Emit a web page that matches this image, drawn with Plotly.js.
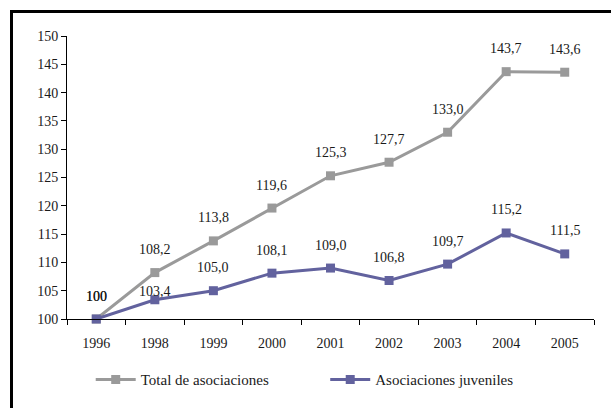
<!DOCTYPE html>
<html><head><meta charset="utf-8">
<script src="https://cdn.plot.ly/plotly-3.0.1.min.js"></script>
<style>
html,body{margin:0;padding:0;background:#fff;}
#wrap{position:relative;width:611px;height:408px;overflow:hidden;}
#chart{width:611px;height:408px;}
#frame{position:absolute;left:10px;top:10px;width:640px;height:440px;border:3px solid #000;pointer-events:none;}
</style></head>
<body><div id="wrap"><div id="chart"></div><div id="frame"></div></div>
<script>
const years = ['1996','1998','1999','2000','2001','2002','2003','2004','2005'];
const totalAsoc = [100, 108.2, 113.8, 119.6, 125.3, 127.7, 133.0, 143.7, 143.6];
const juvAsoc = [100, 103.4, 105.0, 108.1, 109.0, 106.8, 109.7, 115.2, 111.5];
const seriesNames = ['Total de asociaciones', 'Asociaciones juveniles'];
const yTicks = [100,105,110,115,120,125,130,135,140,145,150];

const fmt = v => (v === 100 ? '100' : v.toFixed(1).replace('.', ','));
const grey = '#9a9a9a', purple = '#62629e';
const font = "Liberation Serif";
const txt = '#1a1a1a';

const juvShift = [23, 8, 23, 23, 23, 23, 23, 23, 23];
const annotations = [];
for (let i = 0; i < years.length; i++) {
  annotations.push({x: i, y: totalAsoc[i], xref: 'x', yref: 'y', text: fmt(totalAsoc[i]), showarrow: false, yshift: 23,
    font: {family: font, size: 14, color: txt}});
  annotations.push({x: i, y: juvAsoc[i], xref: 'x', yref: 'y', text: fmt(juvAsoc[i]), showarrow: false, yshift: juvShift[i],
    font: {family: font, size: 14, color: txt}});
}

const data = [
  {x: years, y: totalAsoc, name: seriesNames[0], type: 'scatter', mode: 'lines+markers', legend: 'legend',
   line: {color: grey, width: 3}, marker: {symbol: 'square', size: 9, color: grey}, cliponaxis: false},
  {x: years, y: juvAsoc, name: seriesNames[1], type: 'scatter', mode: 'lines+markers', legend: 'legend2',
   line: {color: purple, width: 3}, marker: {symbol: 'square', size: 9, color: purple}, cliponaxis: false}
];

const legFont = {family: font, size: 15, color: txt};
const layout = {
  width: 611, height: 408,
  margin: {l: 67, r: 17, t: 36, b: 89, autoexpand: false},
  paper_bgcolor: '#fff', plot_bgcolor: '#fff',
  font: {family: font, size: 14, color: txt},
  showlegend: true,
  legend: {orientation: 'h', x: 0.045, xanchor: 'left', y: -0.215, yanchor: 'middle', font: legFont, itemwidth: 40},
  legend2: {orientation: 'h', x: 0.49, xanchor: 'left', y: -0.215, yanchor: 'middle', font: legFont, itemwidth: 40},
  xaxis: {type: 'category', range: [-0.5, 8.5], tickson: 'boundaries', ticks: 'outside', ticklen: 5,
    ticklabelstandoff: 11,
    tickcolor: '#000', showline: true, linecolor: '#000', linewidth: 1, showgrid: false, zeroline: false,
    tickfont: {family: font, size: 14, color: txt}, fixedrange: true},
  yaxis: {range: [100, 150], tickvals: yTicks, ticktext: yTicks.map(String), ticks: 'outside', ticklen: 5,
    tickcolor: '#000', showline: true, linecolor: '#000', linewidth: 1, showgrid: false, zeroline: false,
    tickfont: {family: font, size: 14, color: txt}, fixedrange: true},
  annotations: annotations
};
Plotly.newPlot('chart', data, layout, {displayModeBar: false});
</script></body></html>
